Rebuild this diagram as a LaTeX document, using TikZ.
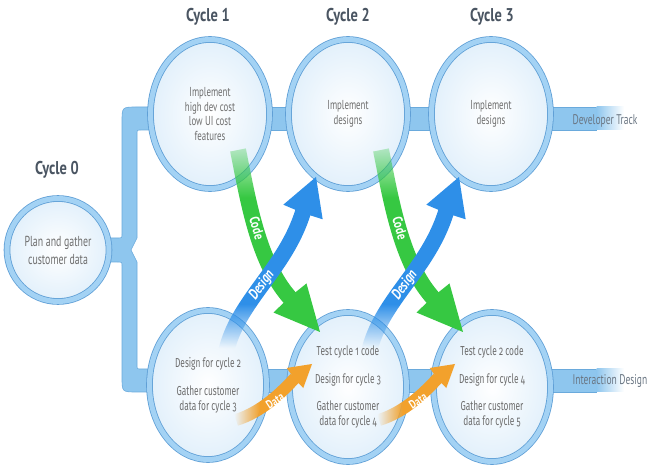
\documentclass[tikz,border=0pt]{standalone}
\usepackage{fontspec}
\setmainfont{PT Sans}[FakeStretch=0.68]
\newfontfamily\headfont{PT Sans}[FakeStretch=0.78]
\newfontfamily\notefont{Fira Sans}[Numbers=OldStyle,FakeStretch=0.64]
\usetikzlibrary{shapes.geometric,fadings,calc}

\definecolor{ringdark}{HTML}{5F9FD6}
\definecolor{ringlight}{HTML}{A3D2F4}
\definecolor{barblue}{HTML}{8EC6EE}
\definecolor{baredge}{HTML}{6AAADC}
\definecolor{glass}{HTML}{E2F0FB}
\definecolor{inktext}{HTML}{6E6E6E}
\definecolor{headink}{HTML}{4A5562}
\definecolor{trackink}{HTML}{6A7683}
\definecolor{codegreen}{HTML}{36C842}
\definecolor{designblue}{HTML}{2E8FE8}
\definecolor{dataorange}{HTML}{F2A12C}

% fadings for the arrow bands
\pgfdeclareverticalshading{fadetopshade}{100bp}{color(0bp)=(pgftransparent!0); color(58bp)=(pgftransparent!0); color(75bp)=(pgftransparent!78); color(100bp)=(pgftransparent!78)}
\pgfdeclareverticalshading{fadebottomshade}{100bp}{color(0bp)=(pgftransparent!100); color(29bp)=(pgftransparent!100); color(43bp)=(pgftransparent!0); color(100bp)=(pgftransparent!0)}
\pgfdeclarehorizontalshading{fadeleftshade}{100bp}{color(0bp)=(pgftransparent!100); color(28bp)=(pgftransparent!100); color(46bp)=(pgftransparent!0); color(100bp)=(pgftransparent!0)}
\pgfdeclarefading{fade top}{\tikz\shade[shading=fadetopshade] (-25bp,-25bp) rectangle (25bp,25bp);}
\pgfdeclarefading{fade bottom}{\tikz\shade[shading=fadebottomshade] (-25bp,-25bp) rectangle (25bp,25bp);}
\pgfdeclarefading{fade left}{\tikz\shade[shading=fadeleftshade] (-25bp,-25bp) rectangle (25bp,25bp);}

\tikzset{
  cyclering/.style={ellipse, inner sep=0pt, draw=ringdark, line width=0.8pt,
    double=ringlight, double distance=5pt, inner color=white, outer color=glass,
    text=inktext, align=center},
  topcycle/.style={cyclering, minimum width=119pt, minimum height=149pt,
    font=\fontsize{13}{14.5}\selectfont},
  lowcycle/.style={cyclering, minimum width=117pt, minimum height=149pt,
    font=\notefont\fontsize{13}{14.5}\selectfont},
  heading/.style={text=headink, font=\headfont\bfseries\fontsize{18.5}{20}\selectfont},
  tracklabel/.style={text=trackink, font=\fontsize{14}{16}\selectfont},
  bandlabel/.style={text=white, inner sep=0pt, font=\headfont\bfseries\fontsize{14}{15}\selectfont},
  bar/.style={fill=barblue, draw=baredge, line width=0.6pt},
}

\begin{document}
\begin{tikzpicture}[x=1pt, y=-1pt]
\useasboundingbox (0,0) rectangle (649,465);
\clip (0,0) rectangle (649,465);

% ---- track bars ----
\fill[barblue] (150,107) rectangle (597,130);
\draw[baredge, line width=0.6pt] (150,107) -- (597,107) (150,130) -- (597,130);
\shade[left color=barblue, right color=white] (596.5,107) rectangle (624,130);
\fill[barblue] (150,369) rectangle (597,392);
\draw[baredge, line width=0.6pt] (150,369) -- (597,369) (150,392) -- (597,392);
\shade[left color=barblue, right color=white] (596.5,369) rectangle (624,392);

% ---- brace joining cycle 0 to both tracks ----
\draw[bar] (150,107) -- (137,107) .. controls (122,107) .. (122,122)
  -- (122,234) .. controls (122,238) .. (117,238) -- (104,238) -- (104,262)
  -- (117,262) .. controls (122,262) .. (122,266) -- (122,377)
  .. controls (122,392) .. (137,392) -- (150,392) -- (150,369) -- (141,369)
  .. controls (137,369) .. (137,365) -- (137,262) -- (131,250) -- (137,238)
  -- (137,134) .. controls (137,130) .. (141,130) -- (150,130) -- cycle;

% ---- cycles ----
\node[cyclering, minimum width=102pt, minimum height=103pt,
  font=\fontsize{14.5}{18}\selectfont] (c0) at (58,250) {Plan and gather\\customer data};
\node[topcycle] (t1) at (210,114) {Implement\\high dev cost\\low UI cost\\features};
\node[topcycle] (t2) at (348,114) {Implement\\designs};
\node[topcycle] (t3) at (491,114) {Implement\\designs};
\node[lowcycle] (b1) at (208,385) {Design for cycle 2\\[14pt]Gather customer\\data for cycle 3};
\node[lowcycle] (b2) at (348,387) {Test cycle 1 code\\[13pt]Design for cycle 3\\[13pt]Gather customer\\data for cycle 4};
\node[lowcycle] (b3) at (492,387) {Test cycle 2 code\\[13pt]Design for cycle 4\\[13pt]Gather customer\\data for cycle 5};

% ---- headings and track names ----
\node[heading] (h0) at (57,170) {Cycle 0};
\node[heading] (h1) at (208,17) {Cycle 1};
\node[heading] (h2) at (348,17) {Cycle 2};
\node[heading] (h3) at (492,17) {Cycle 3};
\node[tracklabel] (dev) at (605,121) {Developer Track};
\node[tracklabel, anchor=west] (ixd) at (569,381) {Interaction Design};

% ---- code / design / data bands between neighbouring cycles ----
\foreach \dx/\k in {0/1,143/2}{
  \begin{scope}[xshift=\dx pt]
    \coordinate (gs\k) at (238,150); \coordinate (gb\k) at (290,298); \coordinate (gt\k) at (320,332);
    \coordinate (ds\k) at (226,352); \coordinate (db\k) at (303,212); \coordinate (dt\k) at (316,177);
    \coordinate (os\k) at (236,420); \coordinate (ob\k) at (295,378); \coordinate (ot\k) at (312,364);
    % code: developer track down to interaction track
    \draw[codegreen, line width=16pt, path fading=fade top]
      (gs\k) .. controls +(10,50) and +(-32,-36) .. (gb\k);
    \fill[codegreen] ($(gb\k)!22pt!90:(gt\k)$) -- (gt\k) -- ($(gb\k)!22pt!-90:(gt\k)$)
      -- ($(gb\k)!1pt!180:(gt\k)$) -- cycle;
    \node[bandlabel, rotate=-74] (code\k) at (257,228) {Code};
    % design: interaction track up to developer track
    \draw[designblue, line width=16pt, path fading=fade bottom]
      (ds\k) .. controls +(12,-52) and +(-18,58) .. (db\k);
    \fill[designblue] ($(db\k)!21pt!90:(dt\k)$) -- (dt\k) -- ($(db\k)!21pt!-90:(dt\k)$)
      -- ($(db\k)!1pt!180:(dt\k)$) -- cycle;
    \node[bandlabel, rotate=54, font=\headfont\bfseries\itshape\fontsize{15}{16}\selectfont]
      (design\k) at (262,285) {Design};
    % data: customer data carried to the next cycle
    \draw[dataorange, line width=12pt, path fading=fade left]
      (os\k) .. controls +(26,-8) and +(-13,14) .. (ob\k);
    \fill[dataorange] ($(ob\k)!13pt!90:(ot\k)$) -- (ot\k) -- ($(ob\k)!13pt!-90:(ot\k)$)
      -- ($(ob\k)!1pt!180:(ot\k)$) -- cycle;
    \node[bandlabel, rotate=33, font=\headfont\bfseries\fontsize{12}{13}\selectfont]
      (data\k) at (275,401) {Data};
  \end{scope}
}
\end{tikzpicture}
\end{document}
